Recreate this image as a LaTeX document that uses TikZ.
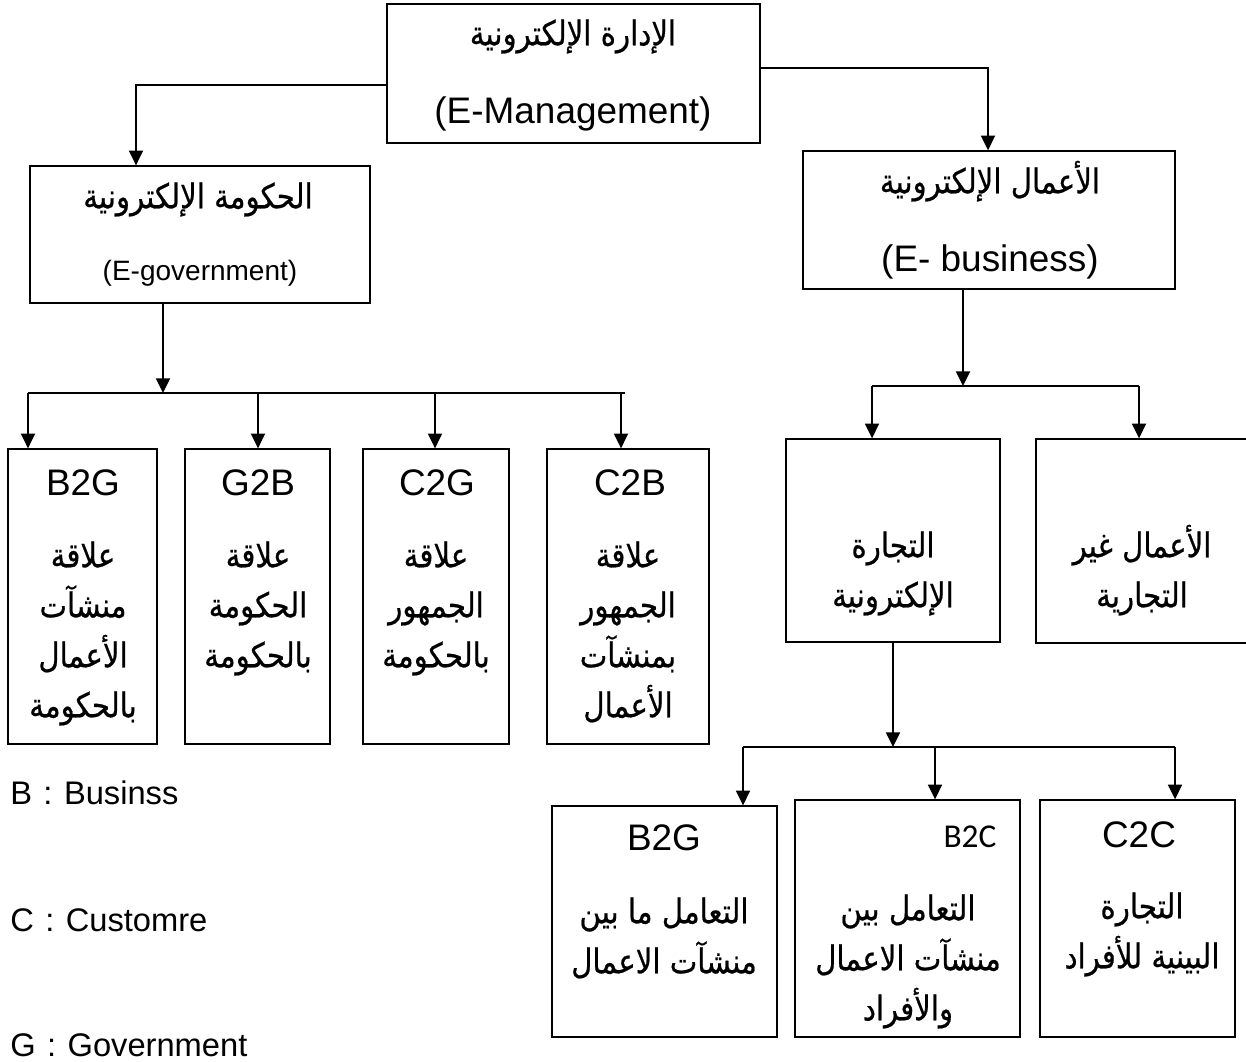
\documentclass[tikz,border=0pt]{standalone}
\usepackage{fontspec}
\setmainfont{Liberation Sans}
\newfontfamily\arabicfont[Script=Arabic,FakeStretch=0.86,FakeBold=0.6]{DejaVu Sans}
\newfontfamily\calibrifont{Carlito}
\usetikzlibrary{arrows.meta,fit}
\TeXXeTstate=1
\newcommand{\arline}[1]{\strut\beginR #1\endR}

\tikzset{
  box/.style={draw, line width=1pt, inner sep=0pt},
  link/.style={line width=1.4pt},
  arrowlink/.style={link, -{Triangle[length=11pt,width=10.5pt]}},
  lattxt/.style={font=\fontsize{27.7}{33}\selectfont, inner sep=0pt},
  artxt/.style={font=\arabicfont\fontsize{25.5}{37.5}\selectfont, align=center, inner sep=0pt, anchor=north},
  legtxt/.style={font=\fontsize{24.5}{30}\selectfont, inner sep=0pt, anchor=west},
}

\begin{document}
\begin{tikzpicture}[x=0.75pt,y=0.75pt,yscale=-1,xscale=1]
\useasboundingbox (0,0) rectangle (1246,1061);

%Shape: Rectangle
\node[box, fit={(387,4) (760,143)}] (mgmt) {};
% Text Node
\node[artxt] (mgmtAr) at (573,10) {\arline{الإدارة الإلكترونية}};
% Text Node
\node[lattxt] (mgmtEn) at (573,114) {(E-Management)};

%Shape: Rectangle
\node[box, fit={(30,166) (370,303)}] (egov) {};
% Text Node
\node[artxt] (egovAr) at (198,173) {\arline{الحكومة الإلكترونية}};
% Text Node
\node[lattxt, font=\fontsize{21}{25}\selectfont] (egovEn) at (200,273) {(E-government)};

%Shape: Rectangle
\node[box, fit={(803,151) (1175,289)}] (ebus) {};
% Text Node
\node[artxt] (ebusAr) at (990,158) {\arline{الأعمال الإلكترونية}};
% Text Node
\node[lattxt] (ebusEn) at (990,262) {(E- business)};

%Shape: Rectangle
\node[box, fit={(8,449) (157,744)}] (lb2g) {};
\node[box, fit={(185,449) (330,744)}] (lg2b) {};
\node[box, fit={(363,449) (509,744)}] (lc2g) {};
\node[box, fit={(547,449) (709,744)}] (lc2b) {};
% Text Node
\node[lattxt] (lb2gT) at (83,483) {B2G};
\node[lattxt] (lg2bT) at (258,483) {G2B};
\node[lattxt] (lc2gT) at (437,483) {C2G};
\node[lattxt] (lc2bT) at (630,483) {C2B};
% Text Node
\node[artxt] (lb2gAr) at (83,532) {\arline{علاقة}\\\arline{منشآت}\\\arline{الأعمال}\\\arline{بالحكومة}};
\node[artxt] (lg2bAr) at (258,532) {\arline{علاقة}\\\arline{الحكومة}\\\arline{بالحكومة}};
\node[artxt] (lc2gAr) at (436,532) {\arline{علاقة}\\\arline{الجمهور}\\\arline{بالحكومة}};
\node[artxt] (lc2bAr) at (628,532) {\arline{علاقة}\\\arline{الجمهور}\\\arline{بمنشآت}\\\arline{الأعمال}};

%Shape: Rectangle
\node[box, fit={(786,439) (1000,642)}] (ecom) {};
\node[box, fit={(1036,439) (1252,643)}] (nonc) {};
% Text Node
\node[artxt] (ecomAr) at (893,522) {\arline{التجارة}\\\arline{الإلكترونية}};
\node[artxt] (noncAr) at (1142,522) {\arline{الأعمال غير}\\\arline{التجارية}};

%Shape: Rectangle
\node[box, fit={(552,806) (777,1037)}] (bb2g) {};
\node[box, fit={(795,800) (1020,1037)}] (bb2c) {};
\node[box, fit={(1040,800) (1235,1037)}] (bc2c) {};
% Text Node
\node[lattxt] (bb2gT) at (664,838) {B2G};
\node[lattxt, font=\calibrifont\fontsize{25}{30}\selectfont] (bb2cT) at (970,837) {B2C};
\node[lattxt] (bc2cT) at (1139,835) {C2C};
% Text Node
\node[artxt] (bb2gAr) at (664,888) {\arline{التعامل ما بين}\\\arline{منشآت الاعمال}};
\node[artxt] (bb2cAr) at (908,885) {\arline{التعامل بين}\\\arline{منشآت الاعمال}\\\arline{والأفراد}};
\node[artxt] (bc2cAr) at (1142,883) {\arline{التجارة}\\\arline{البينية للأفراد}};

% Text Node
\node[legtxt] (legB) at (10,793) {B\hspace{0.35em}:\hspace{0.35em}Businss};
\node[legtxt] (legC) at (10,920) {C\hspace{0.35em}:\hspace{0.35em}Customre};
\node[legtxt] (legG) at (10,1045) {G\hspace{0.35em}:\hspace{0.35em}Government};

%Straight Lines
\coordinate (jL) at (136,85);
\coordinate (jR) at (988,68);
\draw[arrowlink] (jL -| mgmt.west) -| (jL |- egov.north);
\draw[arrowlink] (jR -| mgmt.east) -| (jR |- ebus.north);

%Straight Lines
\coordinate (busG) at (163,393);
\draw[arrowlink] (busG |- egov.south) -- (busG);
\draw[link] (28,393) coordinate (busGL) -- (625,393) coordinate (busGR);
\foreach \x/\n in {28/lb2g, 258/lg2b, 435/lc2g, 621/lc2b}{
  \coordinate (d) at (\x,393);
  \draw[arrowlink] (d) -- (d |- \n.north);
}

%Straight Lines
\coordinate (busB) at (963,386);
\draw[arrowlink] (busB |- ebus.south) -- (busB);
\draw[link] (872,386) coordinate (busBL) -- (1139,386) coordinate (busBR);
\foreach \x/\n in {872/ecom, 1139/nonc}{
  \coordinate (d) at (\x,386);
  \draw[arrowlink] (d) -- (d |- \n.north);
}

%Straight Lines
\coordinate (busC) at (893,747);
\draw[arrowlink] (busC |- ecom.south) -- (busC);
\draw[link] (743,747) coordinate (busCL) -- (1175,747) coordinate (busCR);
\foreach \x/\n in {743/bb2g, 935/bb2c, 1175/bc2c}{
  \coordinate (d) at (\x,747);
  \draw[arrowlink] (d) -- (d |- \n.north);
}

\end{tikzpicture}
\end{document}
